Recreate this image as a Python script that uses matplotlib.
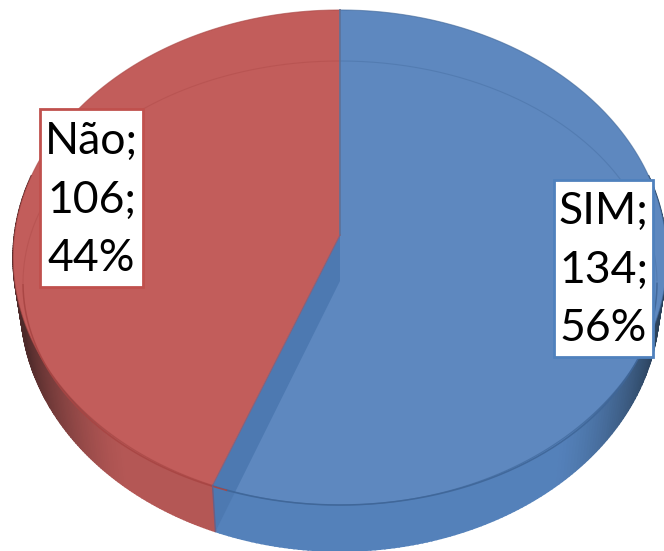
"""3D style pie chart: SIM / Não."""
import numpy as np
import matplotlib
matplotlib.use("Agg")
import matplotlib.pyplot as plt
from matplotlib.colors import to_rgb
from matplotlib.patches import Polygon, Rectangle

# Data
labels = ['SIM', 'Não']
values = [134, 106]
percents = [56, 44]

# Colours per slice
top_colors = ['#5E88BF', '#C25D5B']
side_colors = ['#5481BA', '#B45755']
dark_colors = ['#2A4059', '#4E2A2A']
line_colors = ['#3F6698', '#A84543']
edge_colors = ['#4F81BD', '#C0504D']

# Disc geometry, in pixels
CX, APEX_Y = 340, 235
A, B, K = 325.5, 245.5, 0.0909
DEPTH = 46
LOWER_SCALE = 0.977


def top_point(theta):
    """Theta clockwise from the top of the disc, perspective projection."""
    u, v = np.sin(theta), -np.cos(theta)
    w = 1 - K * v
    return CX + A * u / w, APEX_Y + B * v / w


def lower_point(theta):
    x, y = top_point(theta)
    return CX + LOWER_SCALE * (x - CX), y + DEPTH


def mix(c1, c2, t):
    c1, c2 = np.array(to_rgb(c1)), np.array(to_rgb(c2))
    return tuple(c1 + (c2 - c1) * t)


fig = plt.figure(figsize=(6.64, 5.51), dpi=100)
ax = fig.add_axes([0, 0, 1, 1])
ax.set_xlim(0, 664)
ax.set_ylim(551, 0)
ax.axis('off')

# Slice angles from the values
shares = np.array(values) / sum(values)
ends = np.cumsum(shares) * 2 * np.pi
starts = np.concatenate([[0], ends[:-1]])

# Side wall, split in thin strips to get the dark ends
for i in range(len(values)):
    a0 = max(starts[i], np.pi * 0.42)
    a1 = min(ends[i], np.pi * 1.58)
    thetas = np.linspace(a0, a1, 160)
    for t0, t1 in zip(thetas[:-1], thetas[1:]):
        s = abs(np.sin((t0 + t1) / 2))
        shade = np.clip((s - 0.62) / 0.34, 0, 1) ** 1.4
        col = mix(side_colors[i], dark_colors[i], shade)
        pts = [top_point(t0), top_point(t1), lower_point(t1), lower_point(t0)]
        ax.add_patch(Polygon(pts, closed=True, fc=col, ec=col, lw=1.2))

# Top surface
apex = (CX, APEX_Y)
for i in range(len(values)):
    thetas = np.linspace(starts[i], ends[i], 300)
    xs, ys = top_point(thetas)
    pts = [apex] + list(zip(xs, ys))
    ax.add_patch(Polygon(pts, closed=True, fc=top_colors[i], ec='none'))
    ax.plot(xs, ys, color=line_colors[i], lw=0.8, alpha=0.6)

# Cut face seen through the blue slice
seam = ends[0]
face = [apex, top_point(seam), lower_point(seam), (CX, APEX_Y + DEPTH)]
ax.add_patch(Polygon(face, closed=True, fc='#4D79B1', ec='none'))

# Inner bevel line
for i in range(len(values)):
    thetas = np.linspace(starts[i], ends[i], 300)
    xs = CX + 317 * np.sin(thetas)
    ys = 283 - 222 * np.cos(thetas)
    back = np.cos(thetas) > 0
    ax.plot(np.where(back, xs, np.nan), np.where(back, ys, np.nan),
            color=line_colors[i], lw=0.8, alpha=0.35)
    ax.plot(np.where(~back, xs, np.nan), np.where(~back, ys, np.nan),
            color=line_colors[i], lw=1.1, alpha=0.9)

# Slice borders
x0, y0 = top_point(0.0)
ax.plot([x0, CX], [y0, APEX_Y], color='#5C7299', lw=1.2)
sx, sy = top_point(seam)
lx, ly = lower_point(seam)
ax.plot([CX, sx], [APEX_Y, sy], color='#8A5F78', lw=0.8)
ax.plot([sx, lx], [sy, ly], color='#6B5F85', lw=1.0)

# Data labels
boxes = [(554, 180, 99, 177), (40, 109, 103, 178)]
text_y = [270, 200]
for i, (bx, by, bw, bh) in enumerate(boxes):
    ax.add_patch(Rectangle((bx, by), bw, bh, fc='white',
                           ec=edge_colors[i], lw=2, zorder=5))
    text = f"{labels[i]};\n{values[i]};\n{percents[i]}%"
    ax.text(bx + bw / 2, text_y[i], text, ha='center', va='center',
            family='Lato', fontsize=32, linespacing=1.53, color='black',
            zorder=6)

fig.savefig('out.png', dpi=100)
